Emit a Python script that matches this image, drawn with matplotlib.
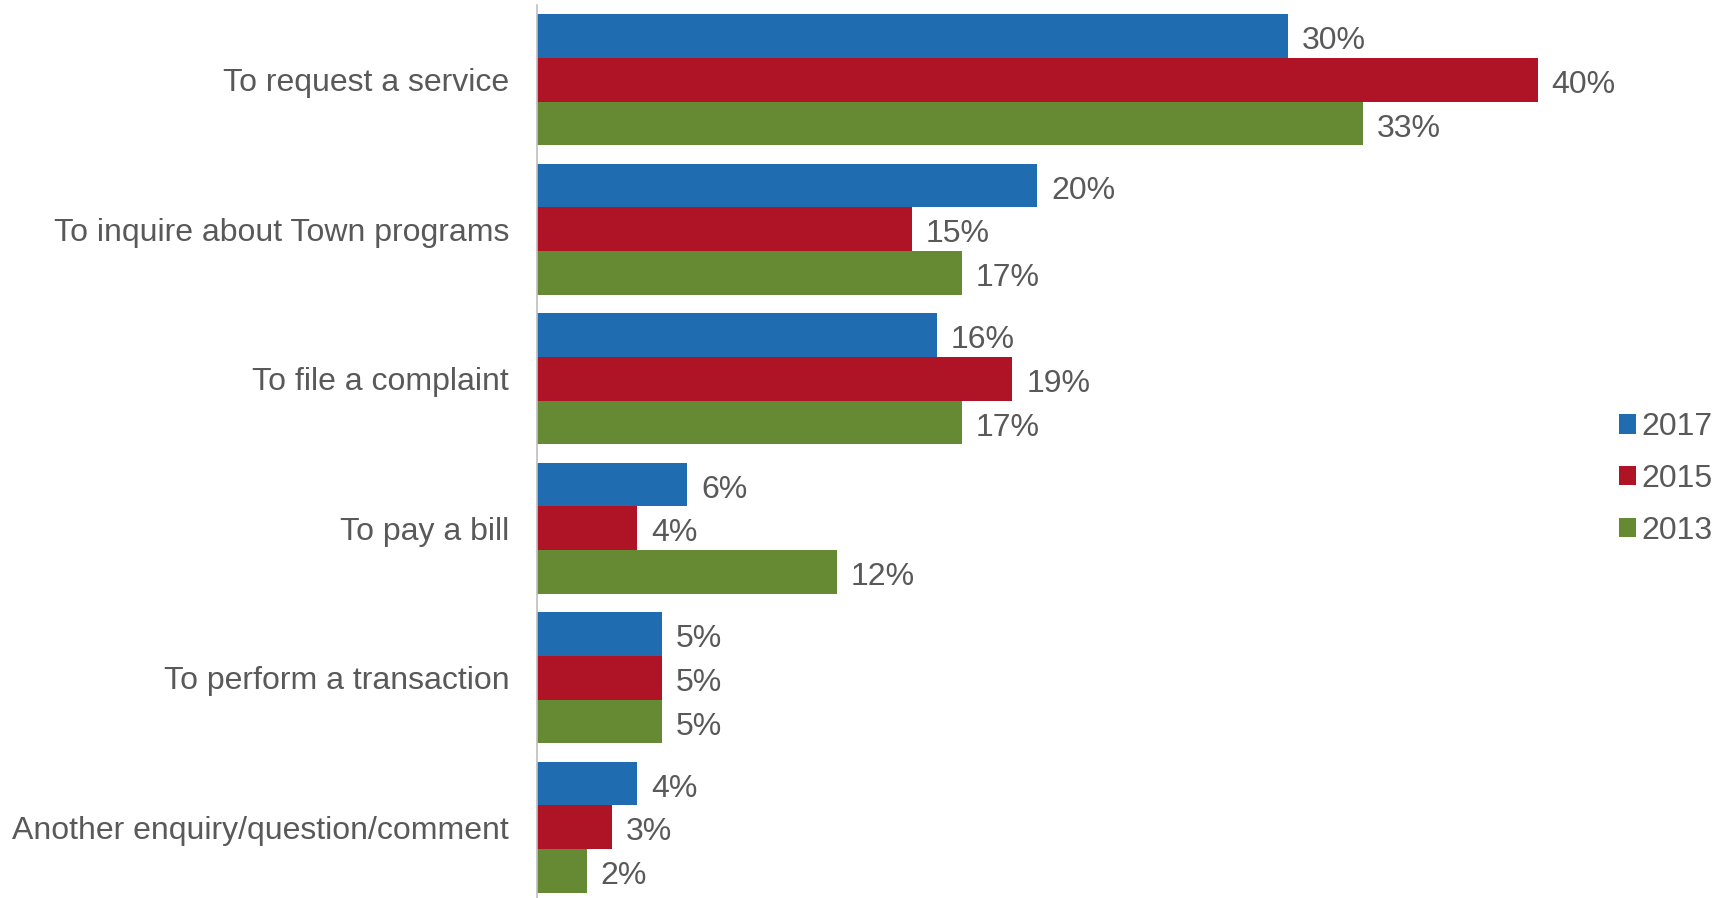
import matplotlib
matplotlib.use("Agg")
import matplotlib.pyplot as plt
from matplotlib.patches import Patch
import numpy as np

plt.rcParams['font.family'] = ['Liberation Sans', 'DejaVu Sans']

categories = [
    "To request a service",
    "To inquire about Town programs",
    "To file a complaint",
    "To pay a bill",
    "To perform a transaction",
    "Another enquiry/question/comment",
]
years = ["2017", "2015", "2013"]
values_2017 = [30, 20, 16, 6, 5, 4]
values_2015 = [40, 15, 19, 4, 5, 3]
values_2013 = [33, 17, 17, 12, 5, 2]
colors = ["#1F6CB0", "#AF1326", "#668A33"]

text_color = "#595959"

fig = plt.figure(figsize=(17.26, 8.98), dpi=100)
ax = fig.add_axes([537 / 1726, -4 / 898, 1 - 537 / 1726 - 13 / 1726, 897 / 898])

y = np.arange(len(categories))
bar_h = 0.293
series = [values_2017, values_2015, values_2013]
for k, (vals, col) in enumerate(zip(series, colors)):
    pos = y + (k - 1) * bar_h
    ax.barh(pos, vals, height=bar_h, color=col, edgecolor="none")
    for p, v in zip(pos, vals):
        ax.text(v + 0.55, p + 0.035, f"{v}%", va="center", ha="left",
                fontsize=23, color=text_color)

ax.set_xlim(0, 47)
ax.set_ylim(len(categories) - 0.5, -0.5)
ax.set_yticks(y)
ax.set_yticklabels(categories, fontsize=23, color=text_color)
ax.tick_params(axis="y", length=0, pad=20)
ax.set_xticks([])
for s in ["top", "right", "bottom"]:
    ax.spines[s].set_visible(False)
ax.spines["left"].set_color("#BFBFBF")
ax.spines["left"].set_linewidth(1.2)

handles = [Patch(facecolor=c, edgecolor="none", label=yr) for c, yr in zip(colors, years)]
leg = fig.legend(handles=handles, loc="center left",
                 bbox_to_anchor=(1606 / 1726, 1 - 479 / 898),
                 frameon=False, fontsize=23, handlelength=0.55, handleheight=0.55,
                 handletextpad=0.15, labelspacing=0.68, borderaxespad=0)
for t in leg.get_texts():
    t.set_color(text_color)

fig.savefig("out.png", dpi=100, facecolor="white")
